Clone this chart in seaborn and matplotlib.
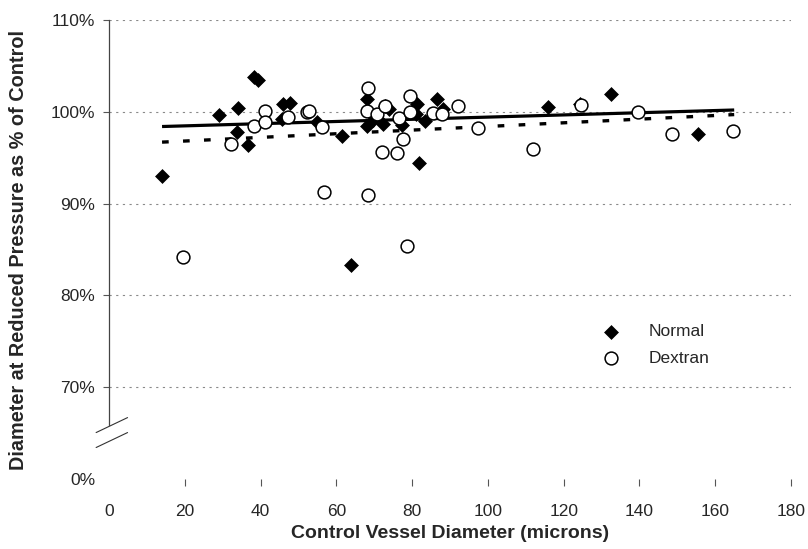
import pandas as pd
import seaborn as sns
import matplotlib.pyplot as plt

# control vessel diameter (microns) and diameter at reduced pressure (% of control)
normal_x = [13.9, 28.9, 34.1, 33.9, 36.6, 38.3, 39.2, 45.8, 47.8, 45.6,
            55.0, 61.6, 64.0, 68.0, 68.0, 69.8, 72.4, 72.9, 73.9, 77.3,
            81.2, 81.1, 83.4, 86.6, 88.2, 81.9, 115.9, 124.3, 132.5, 155.5]
normal_y = [93.0, 99.7, 100.4, 97.8, 96.4, 103.8, 103.5, 100.8, 101.0, 99.2,
            98.9, 97.4, 83.3, 101.4, 98.5, 99.1, 98.7, 100.6, 100.3, 98.6,
            100.9, 99.8, 99.0, 101.4, 100.3, 94.4, 100.5, 100.8, 101.9, 97.6]

dextran_x = [19.5, 32.3, 38.3, 41.3, 41.2, 47.3, 52.2, 52.9, 56.1, 56.8,
             68.3, 68.1, 70.6, 72.9, 68.3, 72.0, 75.9, 76.5, 77.6, 78.7,
             79.5, 79.4, 85.6, 87.8, 92.2, 97.5, 112.0, 124.7, 139.7, 148.7, 164.8]
dextran_y = [84.2, 96.5, 98.5, 100.1, 98.9, 99.4, 100.0, 100.1, 98.3, 91.3,
             102.6, 100.1, 99.8, 100.6, 90.9, 95.6, 95.5, 99.3, 97.0, 85.4,
             101.7, 100.0, 99.9, 99.8, 100.6, 98.2, 95.9, 100.7, 100.0, 97.6, 97.9]

# linear trendlines
trend_x = [14, 165]
normal_trend = [98.4, 100.2]
dextran_trend = [96.7, 99.7]

y_ticks = [60, 70, 80, 90, 100, 110]
y_tick_labels = ["0%", "70%", "80%", "90%", "100%", "110%"]
x_ticks = [0, 20, 40, 60, 80, 100, 120, 140, 160, 180]

sns.set_style("white")
plt.rcParams["font.family"] = ["Liberation Sans", "DejaVu Sans"]

normal = pd.DataFrame({"x": normal_x, "y": normal_y})
dextran = pd.DataFrame({"x": dextran_x, "y": dextran_y})

fig = plt.figure(figsize=(8.08, 5.49), dpi=100)
ax = fig.add_axes([0.1349, 0.1275, 0.8441, 0.836])

# gridlines
for g in y_ticks[1:]:
    ax.axhline(g, color="#8a8a8a", lw=0.8, ls=(0, (2, 4)), zorder=0)

sns.lineplot(x=trend_x, y=normal_trend, ax=ax, color="black", lw=2.3,
             solid_capstyle="butt", zorder=2)
sns.lineplot(x=trend_x, y=dextran_trend, ax=ax, color="black", lw=2.4,
             linestyle=(0, (2, 4.3)), dash_capstyle="butt", zorder=2)

sns.scatterplot(data=normal, x="x", y="y", ax=ax, marker="D", s=50,
                color="black", edgecolor="black", linewidth=0.5,
                label="Normal", zorder=3)
sns.scatterplot(data=dextran, x="x", y="y", ax=ax, marker="o", s=85,
                facecolor="white", edgecolor="black", linewidth=1.1,
                label="Dextran", zorder=3)

ax.set_xlim(0, 180)
ax.set_ylim(60, 110)
ax.set_xticks(x_ticks)
ax.set_yticks(y_ticks)
ax.set_yticklabels(y_tick_labels)
ax.tick_params(axis="x", length=5, width=0.8, color="#555555",
               pad=13, labelsize=12.5, direction="out", bottom=True)
ax.tick_params(axis="y", length=4, width=0.8, color="#555555",
               pad=6, labelsize=12.5, direction="out", left=True)
ax.xaxis.get_major_ticks()[0].tick1line.set_visible(False)
ax.yaxis.get_major_ticks()[0].tick1line.set_visible(False)

for side in ["top", "right", "bottom"]:
    ax.spines[side].set_visible(False)
ax.spines["left"].set_color("#444444")
ax.spines["left"].set_linewidth(0.9)
ax.spines["left"].set_bounds(65.9, 110)

# axis break marks
for y0 in [65.06, 63.43]:
    ax.plot([-3.4, 4.9], [y0, y0 + 1.63], color="#333333", lw=0.8,
            clip_on=False)

ax.set_xlabel("Control Vessel Diameter (microns)", fontsize=14,
              fontweight="bold", labelpad=4)
ax.set_ylabel("Diameter at Reduced Pressure as % of Control", fontsize=14.3,
              fontweight="bold", labelpad=16)

ax.legend(loc="center left", bbox_to_anchor=(0.701, 0.292), frameon=False,
          fontsize=12.5, handlelength=1.0, handletextpad=1.65, labelspacing=0.65)

plt.savefig("out.png", dpi=100)
plt.close()
